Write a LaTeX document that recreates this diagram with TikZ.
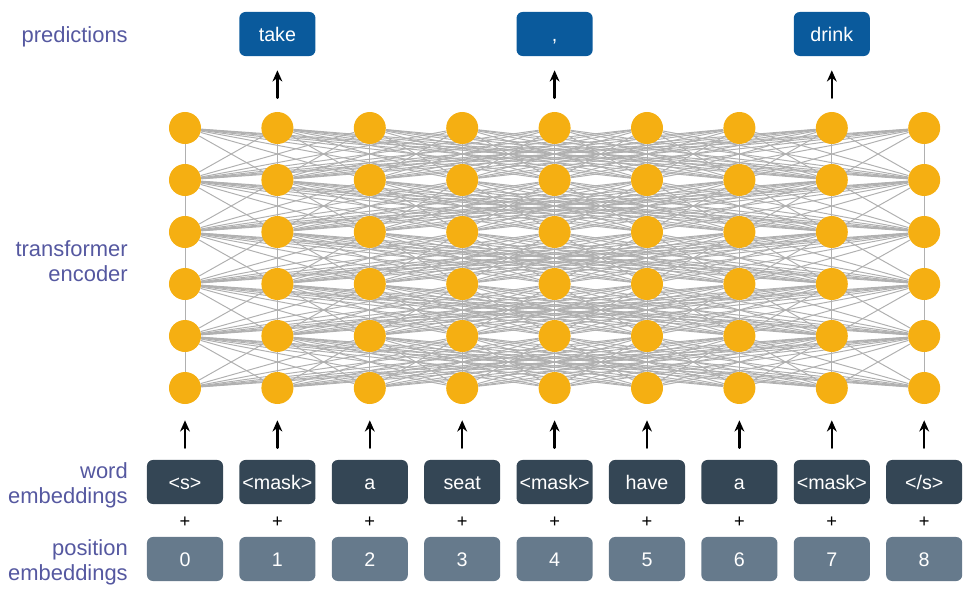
\documentclass[tikz,border=0pt]{standalone}
\usepackage{fontspec}
\setmainfont{Liberation Sans}
\usetikzlibrary{arrows.meta,backgrounds}
\definecolor{unitorange}{HTML}{F5AF12}
\definecolor{wordfill}{HTML}{344655}
\definecolor{posfill}{HTML}{667A8C}
\definecolor{predfill}{HTML}{0A5A9C}
\definecolor{labelblue}{HTML}{5558A0}
\definecolor{linkgray}{HTML}{B0B0B0}
\begin{document}
\begin{tikzpicture}[x=0.025cm,y=-0.025cm,line join=round,line cap=round,
  >={Stealth[length=8pt,width=7pt]},
  unit/.style={circle,fill=unitorange,minimum size=0.8cm,inner sep=0pt},
  tokbox/.style={rounded corners=0.15cm,minimum width=1.9cm,minimum height=1.1cm,
    inner sep=0pt,text=white,text height=10pt,text depth=0pt,
    font=\fontsize{14}{16}\selectfont},
  wordtok/.style={tokbox,fill=wordfill},
  postok/.style={tokbox,fill=posfill},
  predtok/.style={tokbox,fill=predfill},
  rowlabel/.style={anchor=east,align=right,inner sep=0pt,text=labelblue,
    font=\fontsize{15.6}{17.7}\selectfont},
  link/.style={draw=linkgray,line width=0.7pt},
  up/.style={->,line width=1.8pt}]

\useasboundingbox (0,0) rectangle (975,592);

% row labels
\node[rowlabel] (lab-pred) at (128,37) {predictions};
\node[rowlabel] (lab-enc) at (128,261) {transformer\\encoder};
\node[rowlabel] (lab-word) at (128,485) {word\\embeddings};
\node[rowlabel] (lab-pos) at (128,562) {position\\embeddings};

% encoder units
\foreach \i in {0,...,8}
  \foreach \r in {1,...,6}
    \node[unit] (n-\i-\r) at ({185+92.4*\i},{76+52*\r}) {};

% full connections between consecutive rows
\begin{scope}[on background layer]
\foreach \r [evaluate=\r as \s using int(\r+1)] in {1,...,5}
  \foreach \i in {0,...,8}
    \foreach \j in {0,...,8}
      \draw[link] (n-\i-\r) -- (n-\j-\s);
\end{scope}

% inputs
\foreach \tok [count=\i from 0] in {{<s>},{<mask>},a,seat,{<mask>},have,a,{<mask>},{</s>}}{
  \node[wordtok] (w-\i) at ({185+92.4*\i},482) {\tok};
  \node[postok] (p-\i) at ({185+92.4*\i},559) {\i};
  \node[font=\fontsize{13}{15}\selectfont] (plus-\i) at ({185+92.4*\i},522) {+};
  \draw[up,shorten <=0.3cm,shorten >=0.4cm] (w-\i.north) -- (n-\i-6.south);
}

% predictions
\foreach \i/\tok in {1/take,4/{,},7/drink}{
  \node[predtok] (pred-\i) at ({185+92.4*\i},34) {\tok};
  \draw[up,shorten <=0.35cm,shorten >=0.35cm] (n-\i-1.north) -- (pred-\i.south);
}
\end{tikzpicture}
\end{document}
